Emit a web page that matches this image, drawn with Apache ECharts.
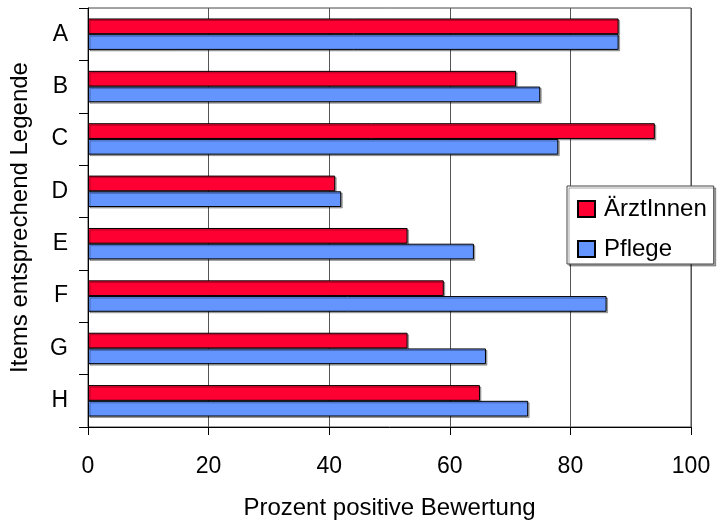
<!DOCTYPE html>
<html>
<head>
<meta charset="utf-8">
<script src="https://cdn.jsdelivr.net/npm/echarts@6/dist/echarts.min.js"></script>
<style>html,body{margin:0;padding:0;background:#fff}#c{width:728px;height:525px}</style>
</head>
<body>
<div id="c"></div>
<script>
const categories = ['A','B','C','D','E','F','G','H'];
const aerztinnen = [88, 71, 94, 41, 53, 59, 53, 65];
const pflege = [88, 75, 78, 42, 64, 86, 66, 73];
const xTicks = [0, 20, 40, 60, 80, 100];

const chart = echarts.init(document.getElementById('c'), null, {renderer: 'canvas'});
const font = 'Liberation Sans, Arial, sans-serif';
const barStyle = (c) => ({color: c, borderColor: '#000', borderWidth: 1,
  shadowColor: 'rgba(0,0,0,0.3)', shadowOffsetX: 1.5, shadowOffsetY: 1.5, shadowBlur: 0});
chart.setOption({
  animation: false,
  textStyle: {fontFamily: font},
  grid: {left: 86, top: 8, width: 605, height: 426, show: true, borderColor: '#444', borderWidth: 1, containLabel: false},
  legend: {
    orient: 'vertical', left: 567, top: 186,
    itemWidth: 17, itemHeight: 16, itemGap: 16,
    padding: [11, 7, 3, 10],
    backgroundColor: '#fff', borderColor: '#444', borderWidth: 1,
    shadowColor: 'rgba(0,0,0,0.35)', shadowOffsetX: 2, shadowOffsetY: 2,
    textStyle: {fontFamily: font, fontSize: 24, lineHeight: 24, color: '#000', padding: [0, 0, 0, 4]},
    icon: 'rect',
    data: ['ÄrztInnen', 'Pflege']
  },
  xAxis: {
    type: 'value', min: xTicks[0], max: xTicks[xTicks.length-1], interval: 20,
    name: 'Prozent positive Bewertung', nameLocation: 'middle', nameGap: 69,
    nameTextStyle: {fontFamily: font, fontSize: 24, color: '#000'},
    axisLine: {show: true, lineStyle: {color: '#000', width: 1}},
    axisTick: {show: true, length: 8, lineStyle: {color: '#000'}},
    axisLabel: {fontFamily: font, fontSize: 23, color: '#000', margin: 28},
    splitLine: {show: true, lineStyle: {color: '#555', width: 1}}
  },
  yAxis: {
    type: 'category', data: categories, inverse: true,
    name: 'Items entsprechend Legende', nameLocation: 'middle', nameGap: 56,
    nameTextStyle: {fontFamily: font, fontSize: 24, color: '#000'},
    axisLine: {show: true, lineStyle: {color: '#000', width: 1}},
    axisTick: {show: true, length: 9, lineStyle: {color: '#000'}},
    axisLabel: {fontFamily: font, fontSize: 23, color: '#000', margin: 20},
    splitLine: {show: false}
  },
  series: [
    {name: 'ÄrztInnen', type: 'bar', data: aerztinnen, barGap: '0%', barCategoryGap: '40%', itemStyle: barStyle('#FF0033')},
    {name: 'Pflege', type: 'bar', data: pflege, barGap: '0%', barCategoryGap: '40%', itemStyle: barStyle('#6495FF')}
  ]
});
</script>
</body>
</html>
